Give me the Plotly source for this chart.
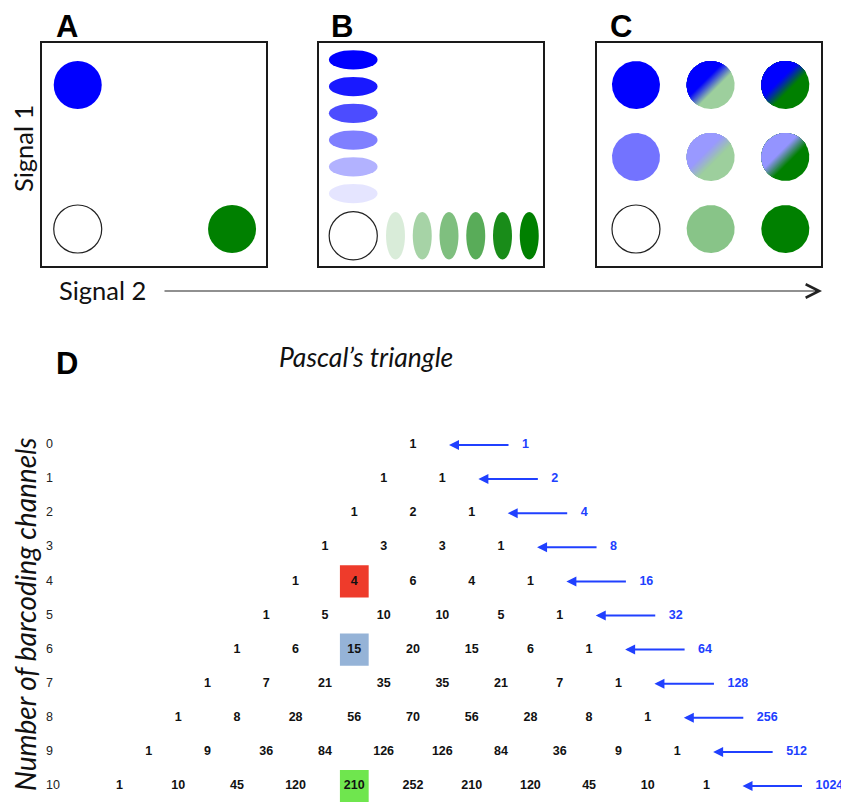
import numpy as np
import plotly.graph_objects as go

W, H = 841, 802

# ---------------- data ----------------
panel_letters = ["A", "B", "C", "D"]

# Panel A: single-level barcodes (signal-2 level, signal-1 level, colour)
a_sig2 = [0, 0, 2]
a_sig1 = [2, 0, 0]
a_fill = ["#0000ff", "#ffffff", "#008000"]

# Panel B: six intensity levels per signal
b_levels = [1, 2, 3, 4, 5, 6]
b_blue_alpha = [0.1, 0.3, 0.5, 0.7, 0.9, 1.0]
b_green_alpha = [0.15, 0.35, 0.5, 0.65, 0.9, 1.0]

# Panel C: 3 x 3 combinations (signal-2 level, signal-1 level, colours of the two halves)
c_sig2 = [0, 1, 2, 0, 1, 2, 0, 1, 2]
c_sig1 = [2, 2, 2, 1, 1, 1, 0, 0, 0]
c_color1 = ["#0000ff", "#0000ff", "#0000ff", "#7373ff", "#9999ff", "#9494ff", None, "#88c488", "#008000"]
c_color2 = ["#0000ff", "#9dcf9d", "#008000", "#7373ff", "#9dcf9d", "#008000", None, "#88c488", "#008000"]

# Panel D: Pascal's triangle
channels = [0, 1, 2, 3, 4, 5, 6, 7, 8, 9, 10]
pascal_rows = [
    [1],
    [1, 1],
    [1, 2, 1],
    [1, 3, 3, 1],
    [1, 4, 6, 4, 1],
    [1, 5, 10, 10, 5, 1],
    [1, 6, 15, 20, 15, 6, 1],
    [1, 7, 21, 35, 35, 21, 7, 1],
    [1, 8, 28, 56, 70, 56, 28, 8, 1],
    [1, 9, 36, 84, 126, 126, 84, 36, 9, 1],
    [1, 10, 45, 120, 210, 252, 210, 120, 45, 10, 1],
]
row_totals = [1, 2, 4, 8, 16, 32, 64, 128, 256, 512, 1024]
highlight_row = [4, 6, 10]
highlight_k = [1, 2, 4]
highlight_color = ["#ee3b2b", "#95b3d7", "#6fe64e"]

# ---------------- helpers ----------------
def px(x):
    return x / W

def py(y):
    return 1 - y / H

def hex2rgb(h):
    h = h.lstrip("#")
    return np.array([int(h[i:i + 2], 16) for i in (0, 2, 4)], dtype=float)

def mix(c1, c2, f):
    c = hex2rgb(c1) * (1 - f) + hex2rgb(c2) * f
    return "rgb(%d,%d,%d)" % tuple(np.round(c).astype(int))

def disc_part(cx, cy, rx, ry, umax, n=60):
    # region of unit disc with projection u (towards lower-right) <= umax
    d = np.array([1.0, -1.0]) / np.sqrt(2)
    e = np.array([1.0, 1.0]) / np.sqrt(2)
    u = np.linspace(-1, umax, n)
    v = np.sqrt(np.clip(1 - u ** 2, 0, None))
    uu = np.concatenate([u, u[::-1]])
    vv = np.concatenate([v, -v[::-1]])
    xs = uu * d[0] + vv * e[0]
    ys = uu * d[1] + vv * e[1]
    return cx + rx * xs, cy + ry * ys

fig = go.Figure()
shapes = []
annotations = []

# ---------------- axes layout ----------------
box_top, box_bot = 43, 266
boxes = {"": (42, 266), "2": (319, 543), "3": (597, 821)}
a_xr = [-0.463, 2.44]
a_yr = [-0.514, 2.583]
b_unit = 26.75
b_xr = [-1.28, 224 / b_unit - 1.28]
b_yr = [-1.13, 223 / b_unit - 1.13]
c_xr = [-0.522, 2.478]
c_yr = [-0.514, 2.583]
ranges = {"": (a_xr, a_yr), "2": (b_xr, b_yr), "3": (c_xr, c_yr)}

axstyle = dict(showgrid=False, zeroline=False, showticklabels=False, ticks="",
               showline=True, mirror=True, linewidth=2, linecolor="#1a1a1a", fixedrange=True)
layout_axes = {}
for k, (x0, x1) in boxes.items():
    xr, yr = ranges[k]
    layout_axes["xaxis" + k] = dict(domain=[px(x0), px(x1)], range=xr, anchor="y" + k, **axstyle)
    layout_axes["yaxis" + k] = dict(domain=[py(box_bot), py(box_top)], range=yr, anchor="x" + k, **axstyle)

d_unit_x, d_unit_y = 58.7, 34.1
d_cx, d_y0 = 413, 445
layout_axes["xaxis4"] = dict(domain=[0, 1], range=[-d_cx / d_unit_x, (W - d_cx) / d_unit_x],
                             visible=False, anchor="y4", fixedrange=True)
layout_axes["yaxis4"] = dict(domain=[0, py(330)], range=[(H - d_y0) / d_unit_y, (330 - d_y0) / d_unit_y],
                             visible=False, anchor="x4", fixedrange=True)

# ---------------- panel A ----------------
fig.add_trace(go.Scatter(
    x=a_sig2, y=a_sig1, mode="markers", xaxis="x", yaxis="y",
    marker=dict(size=48, color=a_fill,
                line=dict(color=["rgba(0,0,0,0)" if c != "#ffffff" else "#222" for c in a_fill], width=1.2)),
    hoverinfo="skip", showlegend=False))

# ---------------- panel B ----------------
off = 0.58
for lvl, ab, ag in zip(b_levels, b_blue_alpha, b_green_alpha):
    yc = lvl + off
    shapes.append(dict(type="circle", xref="x2", yref="y2", x0=-0.91, x1=0.91, y0=yc - 0.36, y1=yc + 0.36,
                       fillcolor="rgba(0,0,255,%.2f)" % ab, line=dict(width=0)))
    xc = lvl + off
    shapes.append(dict(type="circle", xref="x2", yref="y2", x0=xc - 0.355, x1=xc + 0.355, y0=-0.886, y1=0.886,
                       fillcolor="rgba(0,128,0,%.2f)" % ag, line=dict(width=0)))
shapes.append(dict(type="circle", xref="x2", yref="y2", x0=-0.9, x1=0.9, y0=-0.9, y1=0.9,
                   fillcolor="white", line=dict(color="#222", width=1.2)))

# ---------------- panel C ----------------
c_rx = 24 / (224 / (c_xr[1] - c_xr[0]))
c_ry = 24 / (223 / (c_yr[1] - c_yr[0]))
wband = 0.28
for xc, yc, c1, c2 in zip(c_sig2, c_sig1, c_color1, c_color2):
    if c1 is None:
        fig.add_trace(go.Scatter(x=[xc], y=[yc], mode="markers", xaxis="x3", yaxis="y3",
                                 marker=dict(size=48, color="white", line=dict(color="#222", width=1.2)),
                                 hoverinfo="skip", showlegend=False))
        continue
    xs, ys = disc_part(xc, yc, c_rx, c_ry, 1.0, n=120)
    fig.add_trace(go.Scatter(x=xs, y=ys, mode="lines", fill="toself", fillcolor=c2,
                             line=dict(width=0), xaxis="x3", yaxis="y3", hoverinfo="skip", showlegend=False))
    if c1 != c2:
        ts = np.linspace(wband, -wband, 16)
        for t in ts:
            f = (t + wband) / (2 * wband)
            xs, ys = disc_part(xc, yc, c_rx, c_ry, t, n=80)
            fig.add_trace(go.Scatter(x=xs, y=ys, mode="lines", fill="toself", fillcolor=mix(c1, c2, f),
                                     line=dict(width=0), xaxis="x3", yaxis="y3", hoverinfo="skip",
                                     showlegend=False))

# ---------------- panel D ----------------
for r, k, col in zip(highlight_row, highlight_k, highlight_color):
    xc = k - r / 2
    shapes.append(dict(type="rect", xref="x4", yref="y4", x0=xc - 0.245, x1=xc + 0.245,
                       y0=r - 0.47, y1=r + 0.47, fillcolor=col, line=dict(width=0), layer="below"))

tx, ty, tt = [], [], []
for n, row in zip(channels, pascal_rows):
    for k, val in enumerate(row):
        tx.append(k - n / 2)
        ty.append(n)
        tt.append("<b>%d</b>" % val)
fig.add_trace(go.Scatter(x=tx, y=ty, text=tt, mode="text", xaxis="x4", yaxis="y4",
                         textfont=dict(family="Liberation Sans, Arial, sans-serif", size=12.5, color="#111"),
                         hoverinfo="skip", showlegend=False))

# row labels
fig.add_trace(go.Scatter(x=[(46 - d_cx) / d_unit_x] * len(channels), y=channels,
                         text=[str(c) for c in channels], mode="text", textposition="middle right",
                         xaxis="x4", yaxis="y4",
                         textfont=dict(family="Liberation Sans, Arial, sans-serif", size=12.5, color="#222"),
                         hoverinfo="skip", showlegend=False))

# arrows and totals
arrow_col = "#2040ff"
head_off = 36 / d_unit_x
arrow_len = 61 / d_unit_x
lab_x, lab_y, lab_t = [], [], []
for n, tot in zip(channels, row_totals):
    head = n / 2 + head_off
    tail = head + arrow_len
    annotations.append(dict(x=head, y=n, ax=tail, ay=n, xref="x4", yref="y4", axref="x4", ayref="y4",
                            text="", showarrow=True, arrowhead=2, arrowsize=1, arrowwidth=2,
                            arrowcolor=arrow_col))
    lab_x.append(tail + 12 / d_unit_x)
    lab_y.append(n)
    lab_t.append("<b>%d</b>" % tot)
fig.add_trace(go.Scatter(x=lab_x, y=lab_y, text=lab_t, mode="text", textposition="middle right",
                         xaxis="x4", yaxis="y4",
                         textfont=dict(family="Liberation Sans, Arial, sans-serif", size=12.5, color=arrow_col),
                         hoverinfo="skip", showlegend=False))

# ---------------- text decorations ----------------
letter_pos = {"A": (67, 27), "B": (342, 27), "C": (621, 27), "D": (67, 364)}
for L in panel_letters:
    x, y = letter_pos[L]
    annotations.append(dict(x=px(x), y=py(y), xref="paper", yref="paper", text="<b>%s</b>" % L,
                            xanchor="center", yanchor="middle",
                            showarrow=False, font=dict(family="Liberation Sans, Arial", size=31, color="#000")))

calib = "Lato, Carlito, 'Open Sans', sans-serif"
annotations.append(dict(x=px(23), y=py(149), xref="paper", yref="paper", text="Signal 1", textangle=-90,
                        xanchor="center", yanchor="middle",
                        showarrow=False, font=dict(family=calib, size=25.5, color="#111")))
annotations.append(dict(x=px(102), y=py(290), xref="paper", yref="paper", text="Signal 2",
                        xanchor="center", yanchor="middle",
                        showarrow=False, font=dict(family=calib, size=25.5, color="#111")))
annotations.append(dict(x=px(822), y=py(291), ax=-(822 - 163), ay=0, xref="paper", yref="paper",
                        axref="pixel", ayref="pixel", text="", showarrow=True, arrowhead=5,
                        arrowsize=2.2, arrowwidth=1.2, arrowcolor="#222"))
annotations.append(dict(x=px(366), y=py(357), xref="paper", yref="paper", text="<i>Pascal’s triangle</i>",
                        xanchor="center", yanchor="middle",
                        showarrow=False, font=dict(family=calib, size=26.5, color="#111")))
annotations.append(dict(x=px(25), y=py(614), xref="paper", yref="paper",
                        text="<i>Number of barcoding channels</i>", textangle=-90,
                        xanchor="center", yanchor="middle",
                        showarrow=False, font=dict(family=calib, size=28, color="#111")))

fig.update_layout(width=W, height=H, margin=dict(l=0, r=0, t=0, b=0),
                  paper_bgcolor="white", plot_bgcolor="white",
                  shapes=shapes, annotations=annotations, showlegend=False, **layout_axes)

fig.write_html("out.html", config={"displayModeBar": False},
               post_script="document.body.style.margin='0px';")
